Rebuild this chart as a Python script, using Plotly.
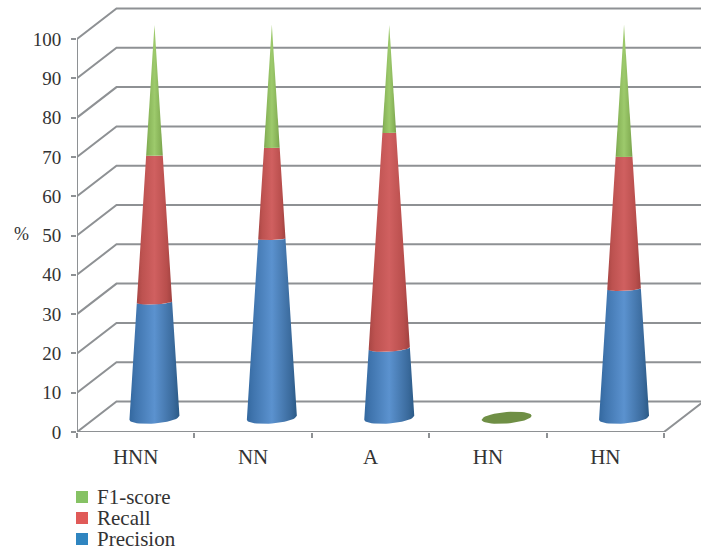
import numpy as np
import plotly.graph_objects as go

categories = ["HNN", "NN", "A", "HN", "HN"]
precision = [29.4, 45.5, 17.7, 0, 32.8]
recall = [37.3, 23.2, 54.8, 0, 33.6]
f1_score = [33.3, 31.3, 27.5, 0, 33.6]
y_ticks = list(range(0, 101, 10))
legend_names = ["F1-score", "Recall", "Precision"]
legend_colors = ["#86c264", "#e05a58", "#2f85c0"]

FONT = "Liberation Serif"
TEXT = "#333333"
GRID = "#8e9194"
W, H = 701, 550
L, B, T = 77, 118, 4
PW, PH = W - L, H - B - T
PX_X = (664 - 77) / 5
PX_Y = (432 - 39) / 100
DX = 39.5 / PX_X
DY = 30.5 / PX_Y
XMAX = PW / PX_X
YMAX = PH / PX_Y
R = 25 / PX_X
RY = 0.23
SKEW = 0.08
CONE_DX = (DX * PX_X / 2 - 1) / PX_X
CONE_DY = (DY * PX_Y / 2 - 1) / PX_Y

fig = go.Figure()


def line(xs, ys, width=2, color=GRID):
    fig.add_trace(go.Scatter(x=xs, y=ys, mode="lines", showlegend=False, hoverinfo="skip",
                             cliponaxis=False, line=dict(color=color, width=width)))


for v in y_ticks:
    line([0, DX, XMAX], [v, v + DY, v + DY])
line([0, 0], [0, 100])
line([0, 5, 5 + DX], [0, 0, DY])


def arc(cx, v, front=True):
    r = R * (1 - v / 100)
    f = max(0.1, 1 - 1.5 * v / 100)
    t = np.linspace(np.pi, 2 * np.pi, 25) if front else np.linspace(0, np.pi, 25)
    x = cx + r * np.cos(t)
    y = CONE_DY + v + r * PX_X * f * (SKEW * np.cos(t) + RY * np.sin(t)) / PX_Y
    return x, y


def segment(cx, a, b, scale):
    x0, y0 = arc(cx, a)
    x1, y1 = arc(cx, b)
    fig.add_trace(go.Scatter(
        x=np.r_[x0, x1[::-1], x0[0]], y=np.r_[y0, y1[::-1], y0[0]],
        mode="lines", fill="toself", line=dict(width=0), showlegend=False, hoverinfo="skip",
        fillgradient=dict(type="horizontal", colorscale=scale)))


BLUE = [[0, "#33689f"], [0.12, "#3f74ad"], [0.5, "#5b92cf"], [0.88, "#3a6a9c"], [1, "#2b5a86"]]
RED = [[0, "#a84644"], [0.15, "#bd5250"], [0.5, "#d06060"], [0.85, "#b84e4c"], [1, "#a04240"]]
GREEN = [[0, "#7ba64e"], [0.15, "#8ab65a"], [0.5, "#9dca6c"], [0.85, "#87b257"], [1, "#76a04a"]]

for i in range(len(categories)):
    cx = i + 0.5 + CONE_DX
    p, r, f = precision[i], recall[i], f1_score[i]
    if p + r + f == 0:
        xf, yf = arc(cx, 0, True)
        xb, yb = arc(cx, 0, False)
        fig.add_trace(go.Scatter(x=np.r_[xb, xf], y=np.r_[yb, yf], mode="lines", fill="toself",
                                 fillcolor="#6f8f45", line=dict(width=0), showlegend=False,
                                 hoverinfo="skip"))
        continue
    segment(cx, 0, p, BLUE)
    segment(cx, p, p + r, RED)
    segment(cx, p + r, p + r + f, GREEN)

annotations = [dict(text="%", xref="paper", yref="paper", x=(21 - L) / PW, y=(432 - 234) / PH,
                    showarrow=False, xanchor="center", yanchor="middle", font=dict(size=18))]
shapes = []
for k, (name, color) in enumerate(zip(legend_names, legend_colors)):
    cy = 497 + 21 * k
    annotations.append(dict(text=name, xref="paper", yref="paper", x=(97 - L) / PW,
                            y=(432 - cy) / PH, showarrow=False, xanchor="left", yanchor="middle",
                            xshift=-2, font=dict(size=21)))
    shapes.append(dict(type="rect", xref="paper", yref="paper", x0=(76 - L) / PW, x1=(88 - L) / PW,
                       y0=(432 - cy - 6) / PH, y1=(432 - cy + 6) / PH,
                       fillcolor=color, line=dict(width=0)))

fig.update_layout(
    width=W, height=H, autosize=False, showlegend=False,
    margin=dict(l=L, r=0, t=T, b=B),
    paper_bgcolor="white", plot_bgcolor="white",
    font=dict(family=FONT, size=19, color=TEXT),
    xaxis=dict(range=[0, XMAX], showgrid=False, zeroline=False, showline=False,
               tickmode="array", tickvals=[i + 0.5 for i in range(5)], ticktext=categories,
               ticks="", ticklen=0, ticklabelstandoff=10, tickfont=dict(size=21),
               minor=dict(tickmode="array", tickvals=list(range(6)), ticks="outside", ticklen=5,
                          tickcolor=GRID, tickwidth=1.5, showgrid=False)),
    yaxis=dict(range=[0, YMAX], showgrid=False, zeroline=False, showline=False,
               tickmode="array", tickvals=y_ticks, ticks="outside", ticklen=5,
               ticklabelstandoff=6, tickfont=dict(size=19),
               tickcolor=GRID, tickwidth=1.5),
    annotations=annotations,
    shapes=shapes,
)
fig.write_html("out.html", post_script="document.body.style.margin='0';",
               config=dict(displayModeBar=False))
